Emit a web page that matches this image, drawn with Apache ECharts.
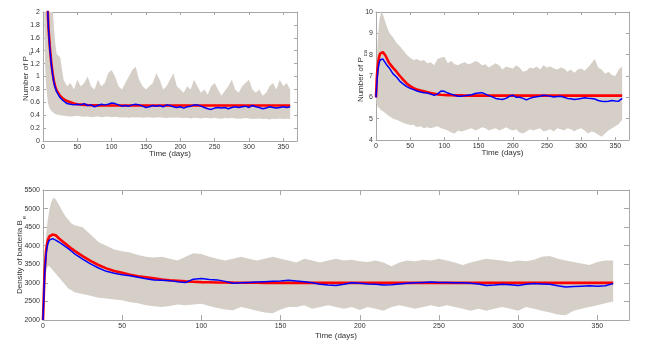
<!DOCTYPE html>
<html>
<head>
<meta charset="utf-8">
<script src="https://cdn.jsdelivr.net/npm/echarts@6/dist/echarts.min.js"></script>
<style>
  html, body { margin: 0; padding: 0; background: #fff; }
  #chart { width: 645px; height: 347px; }
</style>
</head>
<body>
<div id="chart"></div>
<script>
// time points (days)
var days = [0, 1, 2, 3, 4, 5, 6, 7, 8, 10, 12, 14, 16, 18,
  20, 25, 30, 35, 40, 45, 50, 55, 60, 65, 70, 75, 80, 85, 90, 95,
  100, 105, 110, 115, 120, 125, 130, 135, 140, 145, 150, 155, 160, 165, 170, 175, 180, 185, 190, 195,
  200, 205, 210, 215, 220, 225, 230, 235, 240, 245, 250, 255, 260, 265, 270, 275, 280, 285, 290, 295,
  300, 305, 310, 315, 320, 325, 330, 335, 340, 345, 350, 355, 360]

// Number of P_c
var pcModel = [5.0, 4.2, 3.6, 3.1, 2.7, 2.4, 2.2, 2.0, 1.75, 1.45, 1.22, 1.05, 0.92, 0.84,
  0.78, 0.70, 0.65, 0.62, 0.60, 0.58, 0.57, 0.565, 0.56, 0.557, 0.555, 0.553, 0.552, 0.551, 0.55, 0.55,
  0.55, 0.55, 0.55, 0.55, 0.55, 0.55, 0.55, 0.55, 0.55, 0.55, 0.55, 0.55, 0.55, 0.55, 0.55, 0.55, 0.55, 0.55, 0.55, 0.55,
  0.55, 0.55, 0.55, 0.55, 0.55, 0.55, 0.55, 0.55, 0.55, 0.55, 0.55, 0.55, 0.55, 0.55, 0.55, 0.55, 0.55, 0.55, 0.55, 0.55,
  0.55, 0.55, 0.55, 0.55, 0.55, 0.55, 0.55, 0.55, 0.55, 0.55, 0.55, 0.55, 0.55]
var pcMean = [5.0, 4.2, 3.6, 3.1, 2.7, 2.4, 2.2, 2.0, 1.74, 1.43, 1.2, 1.03, 0.9, 0.82,
  0.76, 0.67, 0.62, 0.58, 0.57, 0.56, 0.57, 0.56, 0.58, 0.55, 0.56, 0.53, 0.55, 0.57, 0.56, 0.57,
  0.59, 0.58, 0.56, 0.54, 0.55, 0.54, 0.56, 0.57, 0.56, 0.54, 0.52, 0.53, 0.55, 0.54, 0.55, 0.53, 0.56, 0.55, 0.53, 0.52,
  0.53, 0.51, 0.53, 0.54, 0.56, 0.56, 0.54, 0.52, 0.5, 0.49, 0.51, 0.52, 0.51, 0.52, 0.5, 0.52, 0.53, 0.52, 0.53, 0.54,
  0.52, 0.55, 0.53, 0.52, 0.5, 0.51, 0.53, 0.52, 0.51, 0.52, 0.53, 0.52, 0.53]
var pcHigh = [5.0, 5.0, 5.0, 4.8, 4.5, 4.2, 3.9, 3.6, 3.3, 2.8, 2.4, 2.1, 1.75, 1.5,
  1.35, 1.3, 0.95, 0.85, 0.9, 0.8, 0.95, 0.85, 0.9, 1.0, 0.85, 0.8, 0.95, 0.85, 0.9, 1.05,
  1.1, 1.0, 0.85, 0.8, 0.9, 1.0, 1.1, 1.15, 0.95, 0.85, 0.8, 0.85, 0.9, 1.05, 0.95, 0.8, 0.85, 0.95, 1.05, 0.85,
  0.8, 0.75, 0.85, 0.8, 0.95, 0.85, 0.75, 0.8, 0.72, 0.85, 0.9, 0.8, 0.7, 0.78, 0.85, 0.95, 0.8, 0.75, 0.85, 0.9,
  0.95, 0.8, 0.75, 0.8, 0.7, 0.75, 0.85, 0.9, 0.8, 0.95, 0.85, 0.9, 0.8]
var pcLow = [5.0, 3.0, 1.8, 1.2, 0.95, 0.8, 0.7, 0.62, 0.56, 0.5, 0.47, 0.45, 0.43, 0.42,
  0.41, 0.4, 0.39, 0.385, 0.38, 0.385, 0.39, 0.38, 0.375, 0.38, 0.37, 0.375, 0.38, 0.37, 0.375, 0.38,
  0.37, 0.375, 0.37, 0.365, 0.37, 0.36, 0.37, 0.365, 0.37, 0.36, 0.365, 0.37, 0.36, 0.365, 0.37, 0.36, 0.355, 0.365, 0.36, 0.365,
  0.36, 0.355, 0.36, 0.35, 0.36, 0.355, 0.35, 0.36, 0.355, 0.35, 0.36, 0.35, 0.345, 0.355, 0.35, 0.36, 0.35, 0.345, 0.35, 0.355,
  0.35, 0.34, 0.345, 0.35, 0.34, 0.345, 0.335, 0.345, 0.34, 0.35, 0.34, 0.345, 0.34]

// Number of P_ca
var pcaModel = [6.0, 6.8, 7.3, 7.6, 7.8, 7.95, 8.05, 8.1, 8.13, 8.12, 8.05, 7.95, 7.82, 7.68,
  7.58, 7.38, 7.2, 7.0, 6.82, 6.65, 6.52, 6.43, 6.37, 6.32, 6.28, 6.24, 6.2, 6.17, 6.14, 6.12,
  6.11, 6.1, 6.1, 6.09, 6.09, 6.09, 6.08, 6.08, 6.08, 6.08, 6.08, 6.08, 6.08, 6.08, 6.08, 6.08, 6.08, 6.08, 6.08, 6.08,
  6.08, 6.08, 6.08, 6.08, 6.08, 6.08, 6.08, 6.08, 6.08, 6.08, 6.08, 6.08, 6.08, 6.08, 6.08, 6.08, 6.08, 6.08, 6.08, 6.08,
  6.08, 6.08, 6.08, 6.08, 6.08, 6.08, 6.08, 6.08, 6.08, 6.08, 6.08, 6.08, 6.08]
var pcaMean = [6.0, 6.5, 7.0, 7.3, 7.5, 7.65, 7.75, 7.8, 7.82, 7.8, 7.7, 7.6, 7.5, 7.42,
  7.35, 7.1, 6.95, 6.75, 6.62, 6.5, 6.42, 6.36, 6.3, 6.25, 6.22, 6.2, 6.15, 6.1, 6.15, 6.3,
  6.28, 6.2, 6.15, 6.1, 6.05, 6.05, 6.08, 6.1, 6.12, 6.18, 6.2, 6.22, 6.15, 6.08, 6.02, 5.95, 5.92, 5.9, 5.95, 6.05,
  6.1, 6.0, 6.0, 5.95, 5.88, 5.95, 6.0, 6.03, 6.05, 6.1, 6.08, 6.05, 6.02, 6.04, 6.05, 6.0, 5.95, 5.93, 5.9, 5.92,
  5.95, 5.98, 5.96, 5.95, 5.92, 5.85, 5.82, 5.8, 5.82, 5.85, 5.83, 5.82, 5.95]
var pcaHigh = [6.0, 7.5, 8.3, 8.9, 9.3, 9.6, 9.8, 9.9, 10.0, 9.9, 9.7, 9.5, 9.3, 9.15,
  9.0, 8.8, 8.55, 8.4, 8.2, 8.0, 7.85, 7.75, 7.8, 7.7, 7.75, 7.6, 7.65, 7.5, 7.8, 7.85,
  7.9, 7.6, 7.7, 7.55, 7.5, 7.6, 7.65, 7.55, 7.6, 7.7, 7.65, 7.5, 7.55, 7.4, 7.5, 7.6, 7.5, 7.3, 7.45, 7.4,
  7.35, 7.5, 7.4, 7.2, 7.25, 7.4, 7.35, 7.45, 7.3, 7.5, 7.4, 7.45, 7.35, 7.3, 7.4, 7.35, 7.2, 7.3, 7.15, 7.3,
  7.35, 7.25, 7.4, 7.6, 7.8, 7.4, 7.3, 7.1, 7.2, 7.05, 7.0, 7.3, 7.45]
var pcaLow = [6.0, 5.7, 5.6, 5.55, 5.5, 5.5, 5.45, 5.4, 5.4, 5.35, 5.3, 5.25, 5.2, 5.15,
  5.1, 5.0, 4.95, 4.88, 4.8, 4.75, 4.7, 4.72, 4.6, 4.65, 4.55, 4.6, 4.55, 4.6, 4.65, 4.55,
  4.5, 4.45, 4.35, 4.3, 4.45, 4.4, 4.45, 4.5, 4.55, 4.45, 4.5, 4.6, 4.55, 4.45, 4.5, 4.55, 4.45, 4.5, 4.6, 4.5,
  4.45, 4.5, 4.35, 4.3, 4.4, 4.5, 4.45, 4.5, 4.55, 4.4, 4.45, 4.5, 4.4, 4.55, 4.5, 4.45, 4.55, 4.5, 4.4, 4.5,
  4.55, 4.45, 4.3, 4.4, 4.35, 4.25, 4.15, 4.3, 4.45, 4.55, 4.65, 4.75, 4.95]

// Density of bacteria B_e
var beModel = [2000, 3300, 3900, 4150, 4250, 4290, 4300, 4295, 4280, 4200, 4130, 4060, 3990, 3920,
  3860, 3720, 3590, 3480, 3390, 3320, 3270, 3220, 3180, 3150, 3120, 3090, 3070, 3055, 3040, 3030,
  3020, 3015, 3010, 3008, 3005, 3003, 3002, 3001, 3000, 3000, 3000, 3000, 3000, 3000, 3000, 3000, 3000, 3000, 3000, 3000,
  3000, 3000, 3000, 3000, 3000, 3000, 3000, 3000, 3000, 3000, 3000, 3000, 3000, 3000, 3000, 3000, 3000, 3000, 3000, 3000,
  3000, 3000, 3000, 3000, 3000, 3000, 3000, 3000, 3000, 3000, 3000, 3000, 3000]
var beMean = [2000, 3200, 3800, 4050, 4150, 4200, 4190, 4170, 4150, 4100, 4040, 3980, 3920, 3850,
  3780, 3640, 3510, 3400, 3310, 3260, 3220, 3190, 3150, 3110, 3080, 3070, 3060, 3030, 3010, 3100,
  3120, 3090, 3080, 3040, 2990, 3000, 3010, 3020, 3030, 3040, 3050, 3070, 3050, 3030, 3000, 2960, 2940, 2930, 2960, 3000,
  2990, 2970, 2960, 2940, 2950, 2970, 2990, 3000, 3010, 3020, 3010, 3010, 3000, 3005, 2990, 2970, 2930, 2940, 2960, 2950,
  2930, 2960, 2980, 2970, 2960, 2920, 2890, 2900, 2910, 2920, 2910, 2920, 2980]
var beHigh = [2000, 3600, 4300, 4700, 4950, 5150, 5250, 5290, 5250, 5100, 4950, 4800, 4700, 4600,
  4550, 4500, 4300, 4100, 4000, 3900, 3850, 3820, 3750, 3700, 3680, 3700, 3650, 3600, 3700, 3800,
  3780, 3700, 3650, 3600, 3650, 3700, 3650, 3600, 3650, 3700, 3650, 3600, 3550, 3650, 3600, 3550, 3600, 3650, 3600, 3620,
  3580, 3560, 3600, 3550, 3450, 3550, 3600, 3580, 3620, 3600, 3650, 3600, 3550, 3480, 3550, 3600, 3650, 3620, 3600, 3560,
  3600, 3580, 3620, 3700, 3720, 3650, 3600, 3560, 3520, 3480, 3560, 3600, 3600]
var beLow = [2000, 2900, 3300, 3450, 3450, 3400, 3350, 3300, 3250, 3150, 3050, 2950, 2850, 2800,
  2750, 2700, 2650, 2600, 2580, 2550, 2530, 2480, 2450, 2400, 2370, 2350, 2380, 2420, 2400, 2420,
  2440, 2380, 2320, 2280, 2260, 2350, 2300, 2250, 2200, 2180, 2280, 2350, 2350, 2400, 2300, 2350, 2400, 2350, 2300, 2350,
  2270, 2350, 2300, 2250, 2350, 2400, 2350, 2300, 2350, 2400, 2350, 2400, 2350, 2300, 2250, 2300, 2250, 2300, 2350, 2300,
  2250, 2350, 2300, 2250, 2200, 2150, 2130, 2250, 2300, 2350, 2400, 2450, 2500]

var xTicks = { min: 0, max: 370, interval: 50 }

var boxColor = '#a8a8a8'
var textColor = '#333'
var bandColor = '#d5cfc8'

function pairs (vals) {
  return days.map(function (d, i) { return [d, vals[i]] })
}

function xAxes (gi, tickLen, nameGap) {
  var base = {
    gridIndex: gi,
    type: 'value',
    min: xTicks.min,
    max: xTicks.max,
    interval: xTicks.interval,
    splitLine: { show: false },
    axisLine: { show: true, onZero: false, lineStyle: { color: boxColor, width: 1 } },
    axisTick: { show: true, inside: true, length: tickLen, lineStyle: { color: boxColor } }
  }
  var bottom = Object.assign({}, base, {
    position: 'bottom',
    name: 'Time (days)',
    nameLocation: 'middle',
    nameGap: nameGap,
    nameMoveOverlap: false,
    nameTextStyle: { fontSize: 8, color: textColor, fontFamily: 'Liberation Sans' },
    axisLabel: {
      fontSize: 7,
      color: textColor,
      margin: 3,
      fontFamily: 'Liberation Sans',
      formatter: function (v) { return v % xTicks.interval === 0 ? String(v) : '' }
    }
  })
  var top = Object.assign({}, base, {
    position: 'top',
    axisLabel: { show: false }
  })
  return [bottom, top]
}

function yAxes (gi, min, max, interval, tickLen, label, sub, nameGap) {
  var base = {
    gridIndex: gi,
    type: 'value',
    min: min,
    max: max,
    interval: interval,
    splitLine: { show: false },
    axisLine: { show: true, onZero: false, lineStyle: { color: boxColor, width: 1 } },
    axisTick: { show: true, inside: true, length: tickLen, lineStyle: { color: boxColor } }
  }
  var left = Object.assign({}, base, {
    position: 'left',
    name: '{a|' + label + '}{s|' + sub + '}',
    nameLocation: 'middle',
    nameGap: nameGap,
    nameMoveOverlap: false,
    nameTextStyle: {
      rich: {
        a: { fontSize: 8, color: textColor, fontFamily: 'Liberation Sans', lineHeight: 10, verticalAlign: 'top' },
        s: { fontSize: 6, color: textColor, fontFamily: 'Liberation Sans', lineHeight: 7, verticalAlign: 'top', padding: [5, 0, 0, 1] }
      }
    },
    axisLabel: {
      fontSize: 7,
      color: textColor,
      margin: 3,
      fontFamily: 'Liberation Sans',
      formatter: function (v) { return String(Math.round(v * 10) / 10) }
    }
  })
  var right = Object.assign({}, base, {
    position: 'right',
    axisLabel: { show: false }
  })
  return [left, right]
}

// grey band between low and high, drawn as one polygon through the axis scales
function bandSeries (gi, low, high) {
  return {
    type: 'custom',
    xAxisIndex: gi * 2,
    yAxisIndex: gi * 2,
    silent: true,
    z: 1,
    data: days.map(function (d, i) { return [d, low[i], high[i]] }),
    encode: { x: 0, y: [1, 2] },
    renderItem: function (params, api) {
      if (params.dataIndex !== 0) return null
      var pts = []
      for (var i = 0; i < days.length; i++) pts.push(api.coord([days[i], high[i]]))
      for (var j = days.length - 1; j >= 0; j--) pts.push(api.coord([days[j], low[j]]))
      var cs = params.coordSys
      return {
        type: 'polygon',
        shape: { points: pts },
        style: { fill: bandColor, stroke: null },
        clipPath: { type: 'rect', shape: { x: cs.x, y: cs.y, width: cs.width, height: cs.height } }
      }
    }
  }
}

function panelSeries (gi, low, high, model, mean) {
  var ax = gi * 2
  var common = {
    type: 'line',
    xAxisIndex: ax,
    yAxisIndex: ax,
    symbol: 'none',
    silent: true,
    clip: true
  }
  return [
    bandSeries(gi, low, high),
    Object.assign({}, common, {
      data: pairs(model),
      lineStyle: { color: '#ff0000', width: 2.6 },
      z: 3
    }),
    Object.assign({}, common, {
      data: pairs(mean),
      lineStyle: { color: '#0000ff', width: 1.5 },
      z: 4
    })
  ]
}

var chart = echarts.init(document.getElementById('chart'), null, { renderer: 'canvas' })

chart.setOption({
  animation: false,
  backgroundColor: '#fff',
  grid: [
    { left: 43, top: 12, width: 254, height: 129 },
    { left: 376, top: 12, width: 253, height: 128 },
    { left: 43, top: 190, width: 586, height: 130 }
  ],
  xAxis: [].concat(
    xAxes(0, 3, 9),
    xAxes(1, 3, 9),
    xAxes(2, 5, 12)
  ),
  yAxis: [].concat(
    yAxes(0, 0, 2, 0.2, 3, 'Number of P', 'c', 11),
    yAxes(1, 4, 10, 1, 3, 'Number of P', 'ca', 9),
    yAxes(2, 2000, 5500, 500, 5, 'Density of bacteria B', 'e', 17)
  ),
  series: [].concat(
    panelSeries(0, pcLow, pcHigh, pcModel, pcMean),
    panelSeries(1, pcaLow, pcaHigh, pcaModel, pcaMean),
    panelSeries(2, beLow, beHigh, beModel, beMean)
  )
})
</script>
</body>
</html>
